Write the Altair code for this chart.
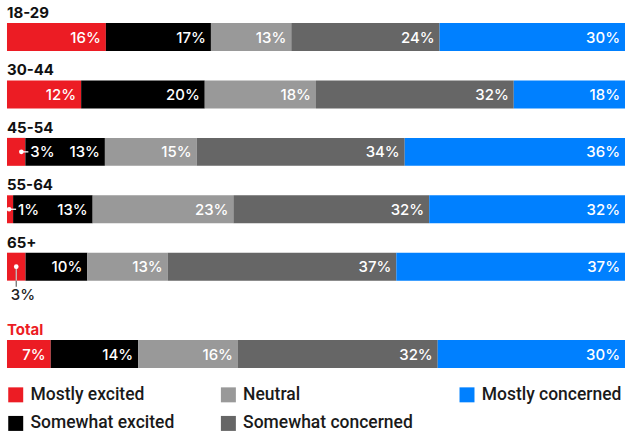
import altair as alt
import pandas as pd

ages = ["18-29", "30-44", "45-54", "55-64", "65+"]
total_group = "Total"
categories = ["Mostly excited", "Somewhat excited", "Neutral",
              "Somewhat concerned", "Mostly concerned"]
colors = ["#EC1C24", "#000000", "#999999", "#666666", "#0080FF"]

# shares per group, in the order ages + [total_group]
mostly_excited = [16, 12, 3, 1, 3, 7]
somewhat_excited = [17, 20, 13, 13, 10, 14]
neutral = [13, 18, 15, 23, 13, 16]
somewhat_concerned = [24, 32, 34, 32, 37, 32]
mostly_concerned = [30, 18, 36, 32, 37, 30]

# tiny segments get a callout label: beside the segment or underneath it
callouts = {"45-54": "side", "55-64": "side", "65+": "below"}

series = [mostly_excited, somewhat_excited, neutral,
          somewhat_concerned, mostly_concerned]
groups = ages + [total_group]

rows = []
for gi, g in enumerate(groups):
    for ci, cat in enumerate(categories):
        v = series[ci][gi]
        place = callouts.get(g, "inside") if ci == 0 else "inside"
        rows.append({"group": g, "cat": cat, "rank": ci, "value": v,
                     "label": f"{v}%", "place": place})
df = pd.DataFrame(rows)

# legend fills row by row in three columns
legend_order = [categories[0], categories[2], categories[4],
                categories[1], categories[3]]
legend_colors = [colors[categories.index(c)] for c in legend_order]

VALUE_FONT = "Inter"
WIDTH = 619


def panel(data, group_list, title_color, height):
    y = alt.Y("group:N", sort=group_list, axis=None,
              scale=alt.Scale(paddingInner=0, paddingOuter=0))
    xs = alt.Scale(domain=[0, 1], nice=False, zero=False)
    base = alt.Chart(data).transform_stack(
        stack="value", groupby=["group"], as_=["start", "end"],
        offset="normalize", sort=[alt.SortField("rank", order="ascending")]
    ).transform_calculate(mid="(datum.start + datum.end) / 2")

    bars = base.mark_bar(size=28).encode(
        x=alt.X("start:Q", scale=xs, axis=None),
        x2="end:Q",
        y=y,
        color=alt.Color("cat:N",
                        scale=alt.Scale(domain=legend_order, range=legend_colors),
                        legend=alt.Legend(title=None)),
    )

    inside = base.transform_filter(alt.datum.place == "inside").mark_text(
        align="right", baseline="alphabetic", dx=-5, dy=5.5,
        font=VALUE_FONT, fontSize=15, fontWeight=500, color="white",
    ).encode(x=alt.X("end:Q", scale=xs), y=y, text="label:N")

    side = base.transform_filter(alt.datum.place == "side")
    side_rule = side.mark_rule(color="white", strokeWidth=1.3,
                               xOffset=-4, x2Offset=3).encode(
        x=alt.X("end:Q", scale=xs), x2="end:Q", y=y)
    side_dot = side.mark_circle(color="white", opacity=1, size=22,
                                xOffset=-4).encode(
        x=alt.X("end:Q", scale=xs), y=y)
    side_text = side.mark_text(
        align="left", baseline="alphabetic", dx=5, dy=5.5,
        font=VALUE_FONT, fontSize=15, fontWeight=500, color="white",
    ).encode(x=alt.X("end:Q", scale=xs), y=y, text="label:N")

    below = base.transform_filter(alt.datum.place == "below")
    below_line = below.mark_tick(orient="vertical", size=20, thickness=1.3,
                                 yOffset=10, color="#333333").encode(
        x=alt.X("mid:Q", scale=xs), y=y)
    below_line_in = below.mark_tick(orient="vertical", size=14, thickness=1.3,
                                    yOffset=7, color="white").encode(
        x=alt.X("mid:Q", scale=xs), y=y)
    below_dot = below.mark_circle(color="white", opacity=1, size=22).encode(
        x=alt.X("mid:Q", scale=xs), y=y)
    below_text = below.mark_text(
        align="left", baseline="alphabetic", dx=-5.5, dy=33,
        font=VALUE_FONT, fontSize=15, fontWeight=500, color="#222222",
    ).encode(x=alt.X("mid:Q", scale=xs), y=y, text="label:N")

    titles = alt.Chart(data).transform_filter(alt.datum.rank == 0).mark_text(
        align="left", baseline="alphabetic", dy=-19,
        font=VALUE_FONT, fontSize=15, fontWeight="bold", color=title_color,
    ).encode(x=alt.value(0), y=y, text="group:N")

    return alt.layer(bars, inside, side_rule, side_dot, side_text,
                     below_line, below_line_in, below_dot, below_text,
                     titles).properties(width=WIDTH, height=height)


ages_panel = panel(df[df.group.isin(ages)], ages, "#111111", 287.5)
total_panel = panel(df[df.group == total_group], [total_group], "#EC1C24", 57.5)

chart = alt.vconcat(ages_panel, total_panel, spacing=29.5, bounds="flush").properties(
    padding={"left": 6, "right": 1, "top": 5, "bottom": 5}
).configure_view(stroke=None).configure_legend(
    orient="bottom", columns=3, symbolType="square", symbolSize=225,
    symbolStrokeWidth=0, labelFont="Roboto", labelFontSize=17.5,
    labelFontWeight=500, labelColor="#1a1a1a", labelOffset=6,
    columnPadding=45, rowPadding=10, labelLimit=300, offset=3,
)

chart.save("out.html", embed_options={"renderer": "svg", "actions": False})
